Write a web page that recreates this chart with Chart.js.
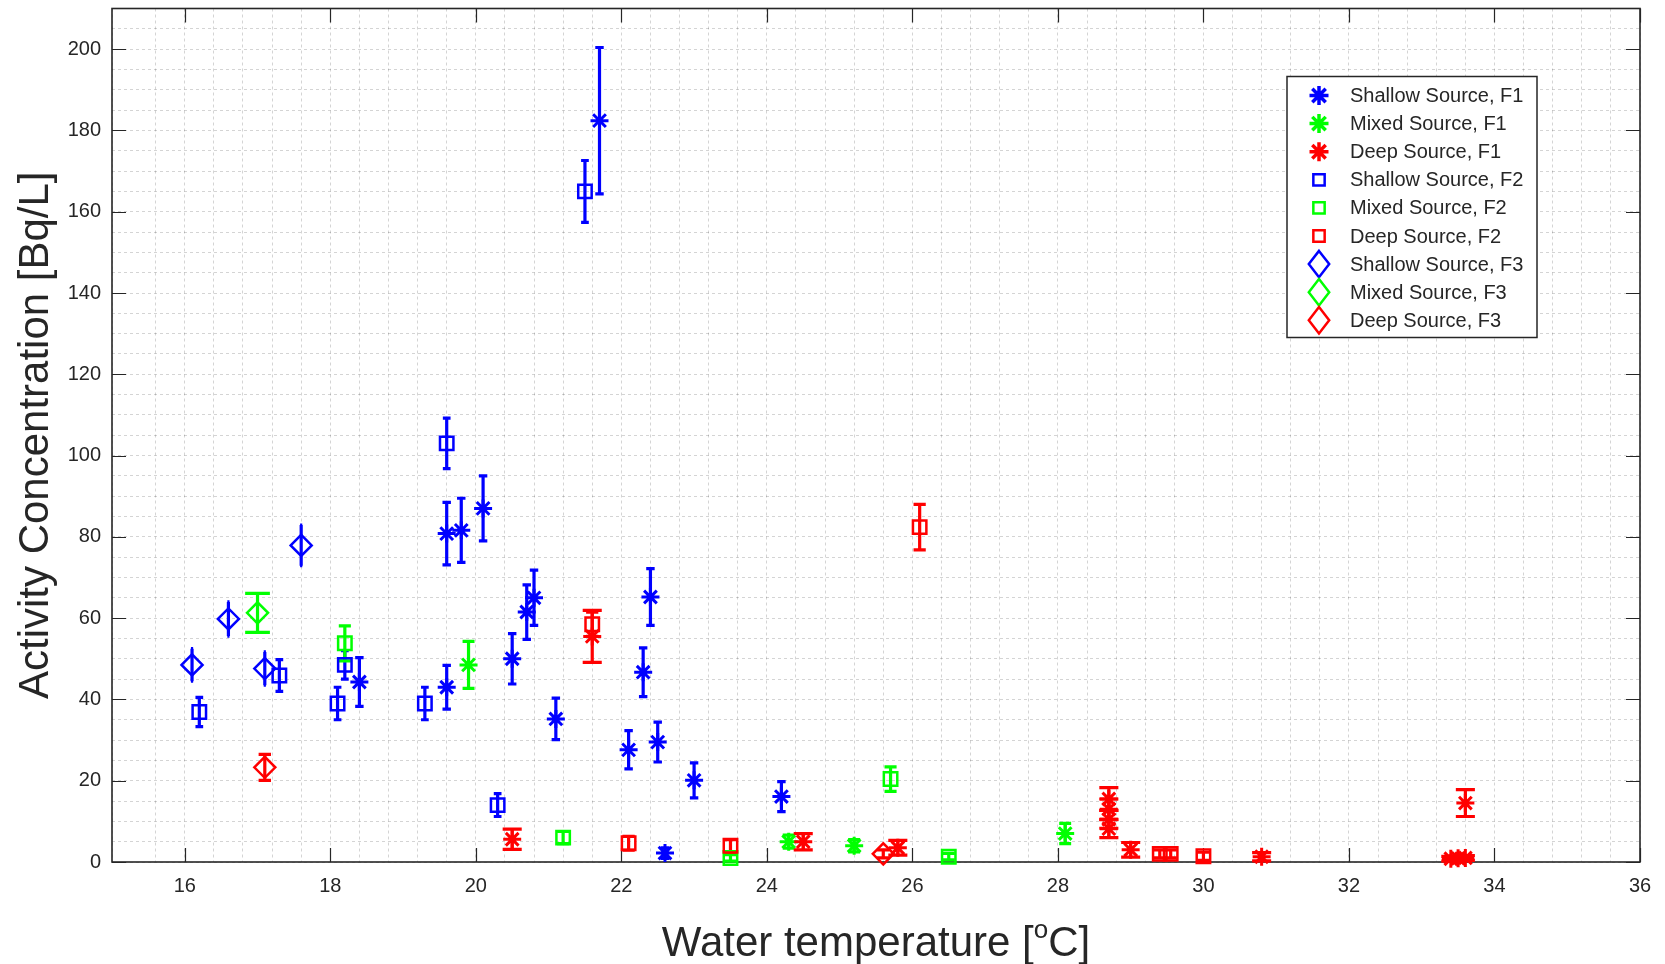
<!DOCTYPE html>
<html lang="en">
<head>
    <meta charset="UTF-8">
    <title>Activity Concentration vs Water temperature</title>
    <script src="https://cdn.jsdelivr.net/npm/chart.js"></script>
    <style>
        html, body { margin: 0; padding: 0; background: #fff; }
        .wrap { width: 1665px; height: 964px; }
    </style>
</head>
<body>
<div class="wrap"><canvas id="chart" width="1665" height="964"></canvas></div>
<script>
// ---- data (temperature in degC, concentration in Bq/L, +/- error) ----

// Shallow Source, F1
const shallowF1Temp = [18.4, 19.6, 19.6, 19.8, 20.1, 20.5, 20.7, 20.8, 21.1, 21.7, 22.1, 22.3, 22.4, 22.5, 22.6, 23.0, 24.2];
const shallowF1Conc = [44.3, 43.0, 80.8, 81.6, 87.0, 50.0, 61.5, 65.0, 35.2, 182.4, 27.6, 46.7, 65.2, 29.5, 2.2, 20.1, 16.1];
const shallowF1Err  = [6.0, 5.4, 7.7, 7.9, 8.0, 6.2, 6.7, 6.8, 5.1, 18.0, 4.7, 6.0, 7.0, 4.9, 1.3, 4.3, 3.7];

// Mixed Source, F1
const mixedF1Temp = [19.9, 24.3, 25.2, 28.1];
const mixedF1Conc = [48.5, 5.0, 4.0, 7.0];
const mixedF1Err  = [5.8, 1.6, 1.5, 2.5];

// Deep Source, F1
const deepF1Temp = [20.5, 21.6, 24.5, 25.8, 28.7, 28.7, 28.7, 28.7, 29.0, 30.8, 33.4, 33.5, 33.6, 33.6];
const deepF1Conc = [5.6, 55.5, 5.0, 3.5, 15.5, 13.0, 10.5, 8.2, 3.0, 1.3, 0.8, 0.9, 1.0, 14.5];
const deepF1Err  = [2.5, 6.4, 2.0, 1.8, 2.8, 2.5, 2.2, 2.2, 1.8, 1.0, 0.6, 0.6, 0.6, 3.3];

// Shallow Source, F2
const shallowF2Temp = [16.2, 17.3, 18.1, 18.2, 19.3, 19.6, 20.3, 21.5];
const shallowF2Conc = [36.9, 45.9, 39.0, 48.5, 39.0, 103.0, 14.0, 165.0];
const shallowF2Err  = [3.6, 3.9, 4.0, 3.5, 4.0, 6.2, 2.8, 7.6];

// Mixed Source, F2
const mixedF2Temp = [18.2, 21.2, 23.5, 25.7, 26.5];
const mixedF2Conc = [53.8, 6.0, 1.0, 20.4, 1.3];
const mixedF2Err  = [4.3, 1.5, 0.8, 3.0, 0.8];

// Deep Source, F2
const deepF2Temp = [21.6, 22.1, 23.5, 26.1, 29.4, 29.55, 30.0];
const deepF2Conc = [58.5, 4.6, 4.0, 82.4, 2.0, 2.0, 1.4];
const deepF2Err  = [3.0, 1.7, 1.5, 5.6, 1.0, 1.0, 1.0];

// Shallow Source, F3
const shallowF3Temp = [16.1, 16.6, 17.1, 17.6];
const shallowF3Conc = [48.5, 59.8, 47.6, 77.9];
const shallowF3Err  = [4.0, 4.2, 4.1, 5.0];

// Mixed Source, F3
const mixedF3Temp = [17.0];
const mixedF3Conc = [61.3];
const mixedF3Err  = [4.8];

// Deep Source, F3
const deepF3Temp = [17.1, 25.6];
const deepF3Conc = [23.3, 2.0];
const deepF3Err  = [3.2, 1.0];

// axis ranges and labelled ticks
const xRange = [15, 36];
const yRange = [0, 210];
const xLabelStep = 2;
const yLabelStep = 20;

// ---- styling ----
const FONT = '"Liberation Sans", Arial, Helvetica, sans-serif';
const AXIS = '#262626';
const GRID = 'rgba(38,38,38,0.2)';
const BLUE = '#0000ff', GREEN = '#00ff00', RED = '#ff0000';

const markers = {
    star:    { plotR: 9,    legendR: 9.5, lw: 3 },
    rect:    { plotR: 9.5,  legendR: 8,   lw: 2.5 },
    rectRot: { plotR: 10.5, legendR: 12,  lw: 2.5 }
};

function makeSet(label, temps, concs, errs, color, shape) {
    const m = markers[shape];
    return {
        label: label,
        data: temps.map((t, i) => ({ x: t, y: concs[i], err: errs[i] })),
        showLine: false,
        borderColor: color,
        backgroundColor: 'rgba(0,0,0,0)',
        pointBackgroundColor: 'rgba(0,0,0,0)',
        pointBorderColor: color,
        pointStyle: shape,
        pointRadius: m.plotR,
        pointHoverRadius: m.plotR,
        pointBorderWidth: m.lw,
        pointHoverBorderWidth: m.lw,
        legendR: m.legendR,
        legendLw: m.lw,
        clip: false
    };
}

const datasets = [
    makeSet('Shallow Source, F1', shallowF1Temp, shallowF1Conc, shallowF1Err, BLUE, 'star'),
    makeSet('Mixed Source, F1', mixedF1Temp, mixedF1Conc, mixedF1Err, GREEN, 'star'),
    makeSet('Deep Source, F1', deepF1Temp, deepF1Conc, deepF1Err, RED, 'star'),
    makeSet('Shallow Source, F2', shallowF2Temp, shallowF2Conc, shallowF2Err, BLUE, 'rect'),
    makeSet('Mixed Source, F2', mixedF2Temp, mixedF2Conc, mixedF2Err, GREEN, 'rect'),
    makeSet('Deep Source, F2', deepF2Temp, deepF2Conc, deepF2Err, RED, 'rect'),
    makeSet('Shallow Source, F3', shallowF3Temp, shallowF3Conc, shallowF3Err, BLUE, 'rectRot'),
    makeSet('Mixed Source, F3', mixedF3Temp, mixedF3Conc, mixedF3Err, GREEN, 'rectRot'),
    makeSet('Deep Source, F3', deepF3Temp, deepF3Conc, deepF3Err, RED, 'rectRot')
];
// later series are drawn on top, like the original plot
datasets.forEach((ds, i) => { ds.order = datasets.length - i; });

function isMultiple(v, step) {
    const q = v / step;
    return Math.abs(q - Math.round(q)) < 1e-6;
}

function drawMarker(ctx, shape, x, y, r) {
    ctx.beginPath();
    if (shape === 'star') {
        const d = r * Math.SQRT1_2;
        ctx.moveTo(x - r, y); ctx.lineTo(x + r, y);
        ctx.moveTo(x, y - r); ctx.lineTo(x, y + r);
        ctx.moveTo(x - d, y - d); ctx.lineTo(x + d, y + d);
        ctx.moveTo(x - d, y + d); ctx.lineTo(x + d, y - d);
    } else if (shape === 'rect') {
        const s = r * Math.SQRT1_2;
        ctx.rect(x - s, y - s, 2 * s, 2 * s);
    } else {
        ctx.moveTo(x, y - r * 1.1);
        ctx.lineTo(x + r * 0.85, y);
        ctx.lineTo(x, y + r * 1.1);
        ctx.lineTo(x - r * 0.85, y);
        ctx.closePath();
    }
    ctx.stroke();
}

// axes box, inward ticks and the error bars (caps sized like old MATLAB errorbar: x-span / 100)
const frameAndErrors = {
    id: 'frameAndErrors',
    beforeDraw(chart) {
        const ctx = chart.ctx;
        ctx.save();
        ctx.fillStyle = '#fff';
        ctx.fillRect(0, 0, chart.width, chart.height);
        ctx.restore();
    },
    beforeDatasetsDraw(chart) {
        const { ctx, chartArea: a, scales: { x, y } } = chart;
        ctx.save();
        ctx.strokeStyle = AXIS;
        ctx.lineWidth = 1.2;
        ctx.beginPath();
        x.ticks.forEach(t => {
            if (!isMultiple(t.value, xLabelStep)) return;
            const px = Math.round(x.getPixelForValue(t.value)) + 0.5;
            ctx.moveTo(px, a.bottom); ctx.lineTo(px, a.bottom - 14);
            ctx.moveTo(px, a.top); ctx.lineTo(px, a.top + 14);
        });
        y.ticks.forEach(t => {
            if (!isMultiple(t.value, yLabelStep)) return;
            const py = Math.round(y.getPixelForValue(t.value)) + 0.5;
            ctx.moveTo(a.left, py); ctx.lineTo(a.left + 14, py);
            ctx.moveTo(a.right, py); ctx.lineTo(a.right - 14, py);
        });
        ctx.stroke();
        ctx.lineWidth = 1.6;
        ctx.strokeRect(a.left, a.top, a.right - a.left, a.bottom - a.top);

        ctx.lineWidth = 3.2;
        ctx.lineCap = 'butt';
        chart.data.datasets.forEach((ds, i) => {
            if (!chart.isDatasetVisible(i)) return;
            const xs = ds.data.map(p => p.x);
            const span = Math.max(...xs) - Math.min(...xs);
            ctx.strokeStyle = ds.borderColor;
            ds.data.forEach(p => {
                const tee = span > 0 ? span / 100 : Math.abs(p.x) / 100;
                const px = x.getPixelForValue(p.x);
                const xl = x.getPixelForValue(p.x - tee);
                const xr = x.getPixelForValue(p.x + tee);
                const yt = y.getPixelForValue(p.y + p.err);
                const yb = y.getPixelForValue(p.y - p.err);
                ctx.beginPath();
                ctx.moveTo(px, yt); ctx.lineTo(px, yb);
                ctx.moveTo(xl, yt); ctx.lineTo(xr, yt);
                ctx.moveTo(xl, yb); ctx.lineTo(xr, yb);
                ctx.stroke();
            });
        });
        ctx.restore();
    }
};

// boxed legend in the upper right plus the x title with its superscript
const boxLegend = {
    id: 'boxLegend',
    afterDraw(chart) {
        const { ctx, chartArea: a } = chart;
        const left = a.right - 353, top = a.top + 68, width = 250, height = 261, rowH = 28.1;
        ctx.save();
        ctx.fillStyle = '#fff';
        ctx.fillRect(left, top, width, height);
        ctx.strokeStyle = AXIS;
        ctx.lineWidth = 1.5;
        ctx.strokeRect(left, top, width, height);
        ctx.font = '20px ' + FONT;
        ctx.textBaseline = 'middle';
        chart.data.datasets.forEach((ds, i) => {
            const cy = top + 19 + i * rowH;
            ctx.strokeStyle = ds.borderColor;
            ctx.lineWidth = ds.legendLw + (ds.pointStyle === 'star' ? 0.5 : 0);
            drawMarker(ctx, ds.pointStyle, left + 32, cy, ds.legendR);
            ctx.fillStyle = AXIS;
            ctx.fillText(ds.label, left + 63, cy + 1);
        });

        // x axis title: Water temperature [oC] with raised o
        const main = 'Water temperature [', sup = 'o', tail = 'C]';
        ctx.fillStyle = AXIS;
        ctx.textBaseline = 'alphabetic';
        ctx.font = '42px ' + FONT;
        const w1 = ctx.measureText(main).width, w3 = ctx.measureText(tail).width;
        ctx.font = '26px ' + FONT;
        const w2 = ctx.measureText(sup).width;
        const cx = (a.left + a.right) / 2;
        let tx = cx - (w1 + w2 + w3) / 2;
        const base = 956;
        ctx.font = '42px ' + FONT;
        ctx.fillText(main, tx, base);
        tx += w1;
        ctx.font = '26px ' + FONT;
        ctx.fillText(sup, tx, base - 18);
        tx += w2;
        ctx.font = '42px ' + FONT;
        ctx.fillText(tail, tx, base);
        ctx.restore();
    }
};

Chart.defaults.font.family = FONT;
Chart.defaults.color = AXIS;

new Chart(document.getElementById('chart').getContext('2d'), {
    type: 'scatter',
    data: { datasets: datasets },
    options: {
        responsive: false,
        animation: false,
        events: [],
        layout: { autoPadding: false, padding: { left: 0, right: 25, top: 8.5, bottom: 0 } },
        plugins: {
            legend: { display: false },
            tooltip: { enabled: false }
        },
        scales: {
            x: {
                type: 'linear',
                min: xRange[0],
                max: xRange[1],
                afterFit(scale) {
                    scale.height = 102;
                    scale.paddingLeft = 0;
                    scale.paddingRight = 0;
                },
                ticks: {
                    stepSize: 0.4,
                    autoSkip: false,
                    maxRotation: 0,
                    padding: 12,
                    color: AXIS,
                    font: { size: 20 },
                    callback: v => (isMultiple(v, xLabelStep) ? String(Math.round(v)) : '')
                },
                grid: { color: GRID, lineWidth: 1, drawTicks: false },
                border: { display: false, dash: [3, 3] },
                title: { display: false }
            },
            y: {
                type: 'linear',
                min: yRange[0],
                max: yRange[1],
                afterFit(scale) {
                    scale.width = 112;
                    scale.paddingTop = 0;
                    scale.paddingBottom = 0;
                },
                ticks: {
                    stepSize: 5,
                    autoSkip: false,
                    padding: 11,
                    color: AXIS,
                    font: { size: 20 },
                    callback: v => (isMultiple(v, yLabelStep) && v <= 200 ? String(Math.round(v)) : '')
                },
                grid: { color: GRID, lineWidth: 1, drawTicks: false },
                border: { display: false, dash: [3, 3] },
                title: {
                    display: true,
                    text: 'Activity Concentration [Bq/L]',
                    color: AXIS,
                    font: { size: 42 },
                    padding: { top: 11, bottom: 0 }
                }
            }
        }
    },
    plugins: [frameAndErrors, boxLegend]
});
</script>
</body>
</html>
